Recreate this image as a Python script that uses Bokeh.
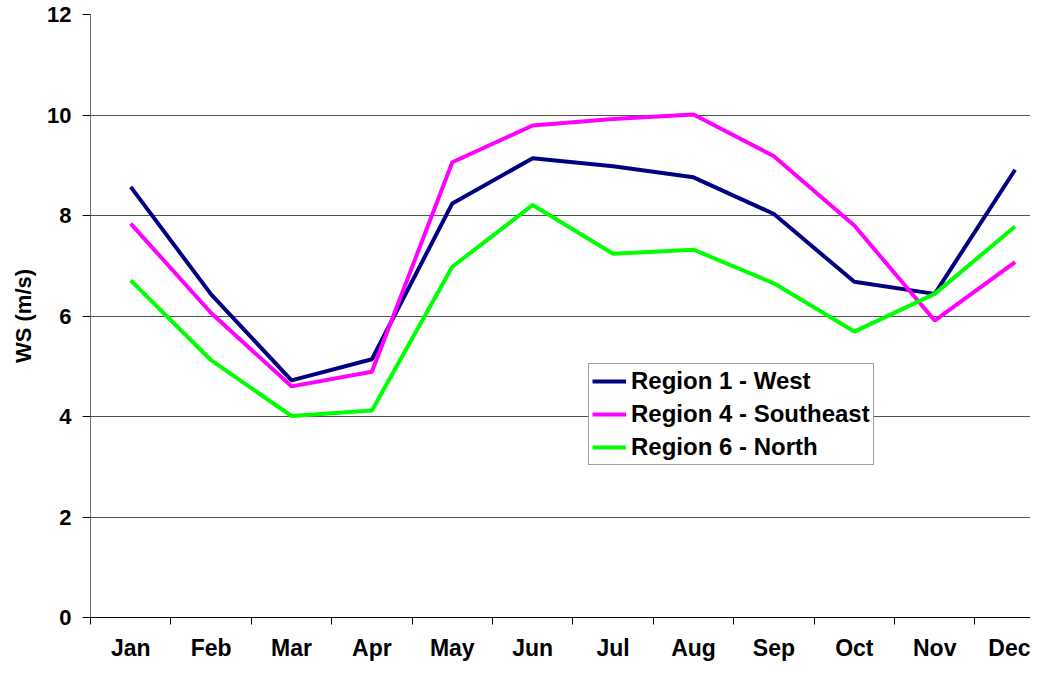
from bokeh.plotting import figure
from bokeh.models import Range1d, FixedTicker, Legend, LegendItem
from bokeh.embed import file_html
from bokeh.resources import INLINE

months = ["Jan", "Feb", "Mar", "Apr", "May", "Jun", "Jul", "Aug", "Sep", "Oct", "Nov", "Dec"]
region1_west = [8.57, 6.43, 4.72, 5.14, 8.24, 9.14, 8.98, 8.76, 8.03, 6.68, 6.44, 8.91]
region4_southeast = [7.84, 6.06, 4.60, 4.89, 9.06, 9.79, 9.92, 10.01, 9.18, 7.80, 5.91, 7.07]
region6_north = [6.71, 5.12, 4.01, 4.12, 6.98, 8.21, 7.24, 7.32, 6.65, 5.69, 6.44, 7.78]
y_ticks = [0, 2, 4, 6, 8, 10, 12]

xs = list(range(1, len(months) + 1))
FONT = "Liberation Sans"

W, H = 1030, 663
LEFT, TOP, BOTTOM = 90, 14, 44
frame_w = W - LEFT
step = 80.4

p = figure(width=W, height=H, output_backend="svg", toolbar_location=None,
           x_range=Range1d(0.5, 0.5 + frame_w / step), y_range=Range1d(0, 12),
           min_border_left=LEFT, min_border_right=0, min_border_top=TOP,
           min_border_bottom=BOTTOM)
p.outline_line_color = None
p.background_fill_color = "white"
p.border_fill_color = "white"

r1 = p.line(xs, region1_west, line_color="#000080", line_width=4)
r4 = p.line(xs, region4_southeast, line_color="#FF00FF", line_width=4)
r6 = p.line(xs, region6_north, line_color="#00FF00", line_width=4)

# x axis
p.xaxis.ticker = FixedTicker(ticks=xs, minor_ticks=[x - 0.5 for x in xs])
p.xaxis.major_label_overrides = {x: m for x, m in zip(xs, months)}
p.xaxis.major_tick_line_color = None
p.xaxis.major_tick_out = 0
p.xaxis.major_tick_in = 0
p.xaxis.minor_tick_out = 7
p.xaxis.minor_tick_in = 0
p.xaxis.minor_tick_line_color = "black"
p.xaxis.axis_line_color = "black"
p.xaxis.major_label_text_font = FONT
p.xaxis.major_label_text_font_style = "bold"
p.xaxis.major_label_text_font_size = "23px"
p.xaxis.major_label_text_color = "black"
p.xaxis.major_label_standoff = 10
p.xgrid.grid_line_color = None

# y axis
p.yaxis.ticker = FixedTicker(ticks=y_ticks)
p.yaxis.minor_tick_line_color = None
p.yaxis.major_tick_out = 8
p.yaxis.major_tick_in = 0
p.yaxis.major_tick_line_color = "black"
p.yaxis.axis_line_color = "#707070"
p.yaxis.major_label_text_font = FONT
p.yaxis.major_label_text_font_style = "bold"
p.yaxis.major_label_text_font_size = "22px"
p.yaxis.major_label_text_color = "black"
p.yaxis.major_label_standoff = 11
p.yaxis.axis_label = "WS (m/s)"
p.yaxis.axis_label_text_font = FONT
p.yaxis.axis_label_text_font_style = "bold"
p.yaxis.axis_label_text_font_size = "22px"
p.yaxis.axis_label_text_color = "black"
p.yaxis.axis_label_standoff = 8
p.ygrid.ticker = FixedTicker(ticks=y_ticks)
p.ygrid.grid_line_color = "#505050"
p.ygrid.grid_line_width = 1

legend = Legend(items=[
    LegendItem(label="Region 1 - West", renderers=[r1]),
    LegendItem(label="Region 4 - Southeast", renderers=[r4]),
    LegendItem(label="Region 6 - North", renderers=[r6]),
], location=(498, 152))
legend.label_text_font = FONT
legend.label_text_font_style = "bold"
legend.label_text_font_size = "24px"
legend.label_text_color = "black"
legend.glyph_width = 34
legend.glyph_height = 28
legend.label_height = 28
legend.spacing = 5
legend.padding = 3
legend.margin = 0
legend.label_standoff = 5
legend.border_line_color = "#404040"
legend.border_line_width = 1
legend.background_fill_alpha = 1.0
p.add_layout(legend, "center")

open("out.html", "w").write(file_html(p, INLINE))
